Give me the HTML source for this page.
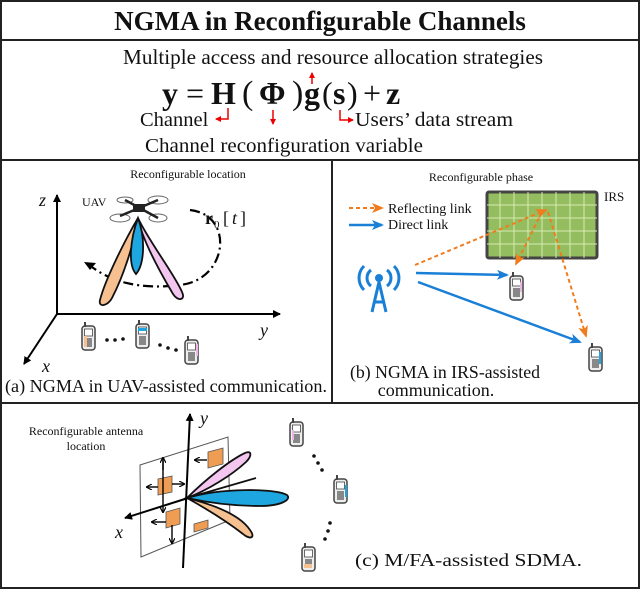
<!DOCTYPE html>
<html><head><meta charset="utf-8"><style>
html,body{margin:0;padding:0;background:#fff}
svg{display:block}
text{font-family:"Liberation Serif",serif;fill:#111}
</style></head><body>
<svg width="640" height="590" viewBox="0 0 640 590" xmlns="http://www.w3.org/2000/svg">
<defs>
<marker id="ab" markerWidth="8" markerHeight="8" refX="7" refY="4" orient="auto" markerUnits="userSpaceOnUse"><path d="M0,0L8,4L0,8z" fill="#000"/></marker>
<marker id="ar" markerWidth="6" markerHeight="6" refX="5" refY="3" orient="auto" markerUnits="userSpaceOnUse"><path d="M0,0L6,3L0,6z" fill="#e00"/></marker>
<marker id="ao" markerWidth="12" markerHeight="10" refX="10" refY="5" orient="auto" markerUnits="userSpaceOnUse"><path d="M0,0L12,5L0,10L3,5z" fill="#f07c1e"/></marker>
<marker id="abl" markerWidth="12" markerHeight="10" refX="10" refY="5" orient="auto" markerUnits="userSpaceOnUse"><path d="M0,0L12,5L0,10L3,5z" fill="#1a7fd6"/></marker>
<marker id="as" markerWidth="6" markerHeight="6" refX="5" refY="3" orient="auto" markerUnits="userSpaceOnUse"><path d="M0,0L6,3L0,6" fill="none" stroke="#000" stroke-width="1.2"/></marker>
<g id="ph"><rect x="0" y="4" width="13" height="24" rx="3" fill="#eee" stroke="#444" stroke-width="1.5"/><rect x="2" y="0" width="2" height="5" fill="#444"/><rect x="2.5" y="7" width="8" height="7" fill="#fff" stroke="#444" stroke-width="0.8"/><rect x="3" y="16" width="7" height="9" fill="#888"/></g>
</defs>
<rect x="1" y="1" width="638" height="587" fill="none" stroke="#222" stroke-width="2"/>
<line x1="0" y1="40" x2="640" y2="40" stroke="#222" stroke-width="2"/>
<line x1="0" y1="160" x2="640" y2="160" stroke="#222" stroke-width="2"/>
<line x1="332" y1="160" x2="332" y2="403" stroke="#222" stroke-width="2"/>
<line x1="0" y1="403" x2="640" y2="403" stroke="#222" stroke-width="2"/>
<text x="320" y="30" font-size="27" font-weight="bold" text-anchor="middle">NGMA in Reconfigurable Channels</text>
<text x="123" y="64" font-size="21" textLength="420" lengthAdjust="spacingAndGlyphs">Multiple access and resource allocation strategies</text>
<text x="162" y="104" font-size="32" font-weight="bold">y</text>
<text x="186" y="104" font-size="32">=</text>
<text x="211" y="104" font-size="32" font-weight="bold">H</text>
<text x="242" y="104" font-size="34">(</text>
<text x="259" y="104" font-size="32" font-weight="bold">Φ</text>
<text x="292" y="104" font-size="34">)</text>
<text x="304" y="104" font-size="32" font-weight="bold">g</text>
<text x="322" y="104" font-size="32">(</text>
<text x="333" y="104" font-size="32" font-weight="bold">s</text>
<text x="347" y="104" font-size="32">)</text>
<text x="363" y="104" font-size="32">+</text>
<text x="386" y="104" font-size="32" font-weight="bold">z</text>
<text x="140" y="126" font-size="20.5">Channel</text>
<text x="355" y="126" font-size="20.5" textLength="158" lengthAdjust="spacingAndGlyphs">Users’ data stream</text>
<text x="145" y="152" font-size="20.5" textLength="278" lengthAdjust="spacingAndGlyphs">Channel reconfiguration variable</text>
<g stroke="#e00" stroke-width="1.5" fill="none">
<path d="M312,84V73" marker-end="url(#ar)"/>
<path d="M228,108V119H216" marker-end="url(#ar)"/>
<path d="M273,110V124" marker-end="url(#ar)"/>
<path d="M340,110V120H353" marker-end="url(#ar)"/>
</g>
<!-- panel a -->
<text x="188" y="178" font-size="12" text-anchor="middle">Reconfigurable location</text>
<g stroke="#000" stroke-width="2" fill="none">
<line x1="57" y1="314" x2="57" y2="195" marker-end="url(#ab)"/>
<line x1="56" y1="314" x2="280" y2="314" marker-end="url(#ab)"/>
<line x1="57" y1="314" x2="24" y2="364" marker-end="url(#ab)"/>
</g>
<text x="39" y="206" font-size="18" font-style="italic">z</text>
<text x="260" y="336" font-size="18" font-style="italic">y</text>
<text x="42" y="372" font-size="18" font-style="italic">x</text>
<text x="82" y="206" font-size="12">UAV</text>
<path d="M190,210 C235,215 228,280 180,285 C140,290 110,282 88,264" fill="none" stroke="#000" stroke-width="2.2" stroke-dasharray="10,4,2,4"/>
<path d="M84,262 L96,263 L90,270z" fill="#000"/>
<text x="205" y="224" font-size="18" font-weight="bold">r</text><text x="214" y="228" font-size="11">0</text><text x="223" y="224" font-size="18">[</text><text x="232" y="224" font-size="18" font-style="italic">t</text><text x="240" y="224" font-size="18">]</text>
<g stroke="#111" stroke-width="1.8">
<path d="M138,218 C125,240 105,280 100,300 C98,308 108,306 112,298 C124,275 135,240 138,218z" fill="#f6c091"/>
<path d="M138,218 C148,240 175,275 182,292 C186,300 178,302 173,294 C160,272 142,240 138,218z" fill="#f3c6f0"/>
<path d="M138,218 C130,240 128,265 136,274 C144,265 146,240 138,218z" fill="#1ea6e0"/>
</g>
<g fill="none" stroke="#666" stroke-width="1"><ellipse cx="120" cy="218" rx="10" ry="4"/><ellipse cx="158" cy="200" rx="10" ry="4"/><ellipse cx="125" cy="200" rx="8" ry="3"/><ellipse cx="158" cy="218" rx="9" ry="4"/></g>
<path d="M120,216 L158,200 M125,200 L158,218" stroke="#222" stroke-width="2.5"/>
<rect x="133" y="204" width="12" height="8" fill="#222"/>
<use href="#ph" x="82" y="322"/><use href="#ph" x="136" y="320"/><use href="#ph" x="185" y="336"/>
<rect x="84" y="336" width="3" height="11" fill="#f6c091"/><rect x="138" y="328" width="9" height="3" fill="#1ea6e0"/><rect x="196" y="344" width="2" height="12" fill="#e9b6e8"/>
<g fill="#111"><circle cx="107" cy="340" r="1.8"/><circle cx="115" cy="340" r="1.8"/><circle cx="123" cy="339" r="1.8"/><circle cx="160" cy="345" r="1.8"/><circle cx="168" cy="348" r="1.8"/><circle cx="176" cy="350" r="1.8"/></g>
<text x="5" y="392" font-size="18" textLength="322" lengthAdjust="spacingAndGlyphs">(a) NGMA in UAV-assisted communication.</text>
<!-- panel b -->
<text x="481" y="181" font-size="12" text-anchor="middle">Reconfigurable phase</text>
<text x="604" y="201" font-size="13">IRS</text>
<rect x="487" y="192" width="110" height="66" fill="#93bd5f" stroke="#444" stroke-width="3" rx="2"/>
<g stroke="#d7ecb6" stroke-width="1"><path d="M500,192V258M514,192V258M528,192V258M542,192V258M556,192V258M570,192V258M584,192V258M487,205H597M487,218H597M487,231H597M487,244H597"/></g>
<line x1="349" y1="208" x2="382" y2="208" stroke="#f07c1e" stroke-width="2" stroke-dasharray="4,3" marker-end="url(#ao)"/>
<text x="388" y="213" font-size="14">Reflecting link</text>
<line x1="349" y1="225" x2="382" y2="225" stroke="#1a7fd6" stroke-width="2.5" marker-end="url(#abl)"/>
<text x="388" y="229" font-size="14">Direct link</text>
<g stroke="#f07c1e" stroke-width="2" stroke-dasharray="4,3" fill="none">
<line x1="415" y1="265" x2="546" y2="210" marker-end="url(#ao)"/>
<line x1="542" y1="212" x2="516" y2="264" marker-end="url(#ao)"/>
<line x1="548" y1="212" x2="586" y2="336" marker-end="url(#ao)"/>
</g>
<g stroke="#1a7fd6" stroke-width="2.5" fill="none">
<line x1="416" y1="273" x2="507" y2="275" marker-end="url(#abl)"/>
<line x1="418" y1="282" x2="580" y2="342" marker-end="url(#abl)"/>
</g>
<g stroke="#1a7fd6" stroke-width="3" fill="none">
<path d="M372,312L379,282L386,312M374,302H384"/>
<circle cx="379" cy="278" r="4" fill="#1a7fd6" stroke="none"/>
<path d="M371,270a10,10 0 0,0 0,16M387,270a10,10 0 0,1 0,16M364,266a17,17 0 0,0 0,24M394,266a17,17 0 0,1 0,24"/>
</g>
<use href="#ph" x="510" y="272"/><use href="#ph" x="589" y="343"/>
<rect x="520" y="282" width="2" height="10" fill="#e9b6e8"/><rect x="599" y="352" width="2" height="12" fill="#1ea6e0"/>
<text x="350" y="378" font-size="18" textLength="190" lengthAdjust="spacingAndGlyphs">(b) NGMA in IRS-assisted</text>
<text x="436" y="396" font-size="18" text-anchor="middle">communication.</text>
<!-- panel c -->
<text x="86" y="435" font-size="12" text-anchor="middle">Reconfigurable antenna</text>
<text x="86" y="450" font-size="12" text-anchor="middle">location</text>
<path d="M140,465L228,437L230,520L141,557z" fill="#fff" stroke="#555" stroke-width="1"/>
<g stroke="#111" stroke-width="1.8">
<path d="M187,498 C205,480 230,460 245,453 C252,450 252,456 246,462 C232,475 208,490 187,498z" fill="#f3c6f0"/>
<path d="M187,498 C215,505 240,515 250,530 C256,538 250,540 243,534 C225,520 205,508 187,498z" fill="#f6c091"/>
<path d="M187,498 C220,488 275,488 287,495 C292,500 280,506 260,506 C230,506 205,502 187,498z" fill="#1ea6e0"/>
<line x1="187" y1="498" x2="256" y2="478"/>
</g>
<g stroke="#000" stroke-width="2" fill="none">
<line x1="183" y1="568" x2="190" y2="414" marker-end="url(#ab)"/>
<line x1="188" y1="498" x2="125" y2="518" marker-end="url(#ab)"/>
</g>
<text x="200" y="424" font-size="18" font-style="italic">y</text>
<text x="115" y="538" font-size="18" font-style="italic">x</text>
<g fill="#ef9d53" stroke="#555" stroke-width="0.8">
<path d="M158,479L172,476L172,492L158,495z"/><path d="M208,452L223,448L223,464L208,468z"/>
<path d="M166,512L180,508L180,524L166,528z"/><path d="M194,524L208,520L208,528L194,532z"/>
</g>
<g stroke="#000" stroke-width="1.4" fill="none">
<path d="M163,490V460M163,490V512" marker-end="url(#as)"/><path d="M163,470V458" marker-end="url(#as)"/>
<path d="M158,487H147" marker-end="url(#as)"/><path d="M172,484H184" marker-end="url(#as)"/>
<path d="M207,460H195" marker-end="url(#as)"/>
<path d="M166,522H152" marker-end="url(#as)"/><path d="M172,525V543" marker-end="url(#as)"/>
</g>
<use href="#ph" x="290" y="418"/><use href="#ph" x="334" y="475"/><use href="#ph" x="302" y="543"/>
<rect x="292" y="430" width="2" height="10" fill="#e9b6e8"/><rect x="345" y="485" width="2" height="12" fill="#1ea6e0"/><rect x="304" y="564" width="8" height="4" fill="#f6c091"/>
<g fill="#111"><circle cx="314" cy="456" r="1.8"/><circle cx="318" cy="463" r="1.8"/><circle cx="322" cy="470" r="1.8"/><circle cx="330" cy="523" r="1.8"/><circle cx="328" cy="531" r="1.8"/><circle cx="325" cy="539" r="1.8"/></g>
<text x="355" y="566" font-size="18" textLength="227" lengthAdjust="spacingAndGlyphs">(c) M/FA-assisted SDMA.</text>
</svg>
</body></html>
